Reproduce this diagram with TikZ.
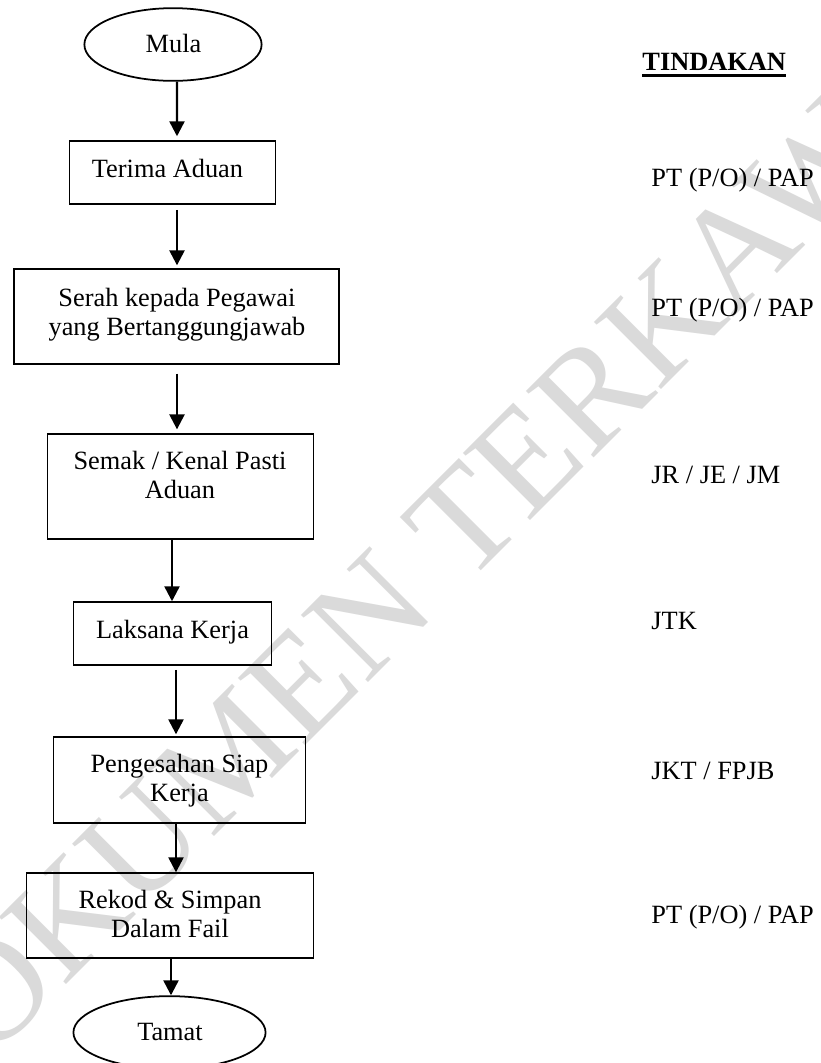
\documentclass[tikz,border=0pt]{standalone}
\usepackage{fontspec}
\setmainfont{Liberation Serif}
\usetikzlibrary{arrows.meta,shapes.geometric}
\definecolor{wm}{RGB}{218,218,218}
\begin{document}
\begin{tikzpicture}[x=0.016cm,y=-0.016cm,
  box/.style={draw,line width=0.8pt,rectangle,inner sep=0pt},
  oval/.style={draw,line width=0.8pt,ellipse,inner sep=0pt},
  txt/.style={font=\fontsize{12}{13.6}\selectfont,inner sep=0pt,anchor=base},
  mtxt/.style={font=\fontsize{12}{13.6}\selectfont,inner sep=0pt,anchor=base,text width=8cm,align=flush center},
  lbl/.style={font=\fontsize{12}{13.6}\selectfont,inner sep=0pt,anchor=base west},
  arr/.style={line width=1.1pt,-{Triangle[width=6.8pt,length=6.8pt]}}]
\useasboundingbox (0,0) rectangle (821,1063);
\clip (0,0) rectangle (821,1063);
\fill[white] (0,0) rectangle (821,1063);
% watermark
\node[wm,font=\fontsize{66}{66}\selectfont,rotate=45,inner sep=0pt] (wmark) at (435,550) {DOKUMEN TERKAWAL};
% shapes
\node[oval,minimum width=178*0.4535pt,minimum height=73*0.4535pt] (e1) at (173,44.5) {};
\node[box,minimum width=207*0.4535pt,minimum height=63*0.4535pt] (b1) at (172.5,172.5) {};
\node[box,minimum width=327*0.4535pt,minimum height=95*0.4535pt] (b2) at (176.5,316.5) {};
\node[box,minimum width=267*0.4535pt,minimum height=105*0.4535pt] (b3) at (180.5,486.5) {};
\node[box,minimum width=199*0.4535pt,minimum height=63*0.4535pt] (b4) at (172.5,633.5) {};
\node[box,minimum width=253*0.4535pt,minimum height=86*0.4535pt] (b5) at (179.5,780) {};
\node[box,minimum width=288*0.4535pt,minimum height=85*0.4535pt] (b6) at (170,915.5) {};
\node[oval,minimum width=193*0.4535pt,minimum height=73*0.4535pt] (e2) at (169.5,1032.5) {};
% texts
\node[txt] (t0) at (173.5,52) {Mula};
\node[txt] (t1) at (167.5,177) {Terima Aduan};
\node[mtxt] (t2) at (177,306) {Serah kepada Pegawai\\yang Bertanggungjawab};
\node[mtxt] (t3) at (180,469) {Semak / Kenal Pasti\\Aduan};
\node[txt] (t4) at (172.5,638) {Laksana Kerja};
\node[mtxt] (t5) at (179.5,772) {Pengesahan Siap\\Kerja};
\node[mtxt] (t6) at (170,908) {Rekod \& Simpan\\Dalam Fail};
\node[txt] (t7) at (170,1040) {Tamat};
% arrows
\draw[arr] ([xshift=4*0.4535pt]e1.south) -- ([shift={(4.5,-4)}]b1.north);
\draw[arr] ([shift={(4.5,5)}]b1.south) -- ([shift={(0.5,-3)}]b2.north);
\draw[arr] ([shift={(0.5,9)}]b2.south) -- ([shift={(-3.5,-4)}]b3.north);
\draw[arr] ([shift={(-8.5,0)}]b3.south) -- ([shift={(-0.5,0)}]b4.north);
\draw[arr] ([shift={(3.5,4)}]b4.south) -- ([shift={(-3.5,-2)}]b5.north);
\draw[arr] ([shift={(-3.5,0)}]b5.south) -- ([shift={(6,0)}]b6.north);
\draw[arr] ([shift={(1,0)}]b6.south) -- ([shift={(1.5,0)}]e2.north);
% right column
\node[lbl,font=\fontsize{12}{13.6}\selectfont\bfseries] (hd) at (642,70.7) {TINDAKAN};
\draw[line width=1.3pt] ([yshift=-2.3pt]hd.base west) -- ([yshift=-2.3pt]hd.base east);
\node[lbl] (r1) at (651,186.7) {PT (P/O) / PAP};
\node[lbl] (r2) at (651,316.7) {PT (P/O) / PAP};
\node[lbl] (r3) at (651,483) {JR / JE / JM};
\node[lbl] (r4) at (651,629) {JTK};
\node[lbl] (r5) at (651,779) {JKT / FPJB};
\node[lbl] (r6) at (651,923) {PT (P/O) / PAP};
\end{tikzpicture}
\end{document}
